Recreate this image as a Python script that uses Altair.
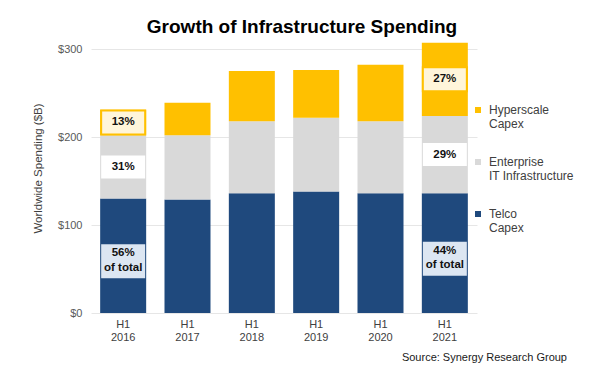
import altair as alt
import pandas as pd

# ---- data ----
years = ["2016", "2017", "2018", "2019", "2020", "2021"]
series = ["Hyperscale Capex", "Enterprise IT Infrastructure", "Telco Capex"]
telco = [130, 129, 136, 138, 136, 136]
enterprise = [72, 73, 82, 84, 82, 88]
hyperscale = [29, 37, 57, 54, 64, 83]
labeled_years = ["2016", "2021"]
y_ticks = [0, 100, 200, 300]
title_text = "Growth of Infrastructure Spending"
source_text = "Source: Synergy Research Group"
y_title = "Worldwide Spending ($B)"

colors = ["#FFC000", "#D9D9D9", "#1F497D"]
FONT = "Liberation Sans"

rows = []
for i, yr in enumerate(years):
    for name, vals, order in [("Telco Capex", telco, 0),
                              ("Enterprise IT Infrastructure", enterprise, 1),
                              ("Hyperscale Capex", hyperscale, 2)]:
        rows.append({"year": yr, "series": name, "value": vals[i], "order": order})
df = pd.DataFrame(rows)

base = alt.Chart(df).transform_stack(
    stack="value", groupby=["year"],
    sort=[alt.SortField("order", order="ascending")], as_=["lo", "hi"]
).transform_joinaggregate(
    total="sum(value)", groupby=["year"]
).transform_calculate(
    mid="(datum.lo + datum.hi) / 2",
    pct="round(100 * datum.value / datum.total) + '%'",
    pct2="[round(100 * datum.value / datum.total) + '%', 'of total']",
)

xenc = alt.X("year:N", sort=years,
             scale=alt.Scale(paddingInner=0.285, paddingOuter=0.1425),
             axis=alt.Axis(title=None, labelExpr="['H1', datum.label]", labelAngle=0,
                           domain=False, ticks=False, labelPadding=5, labelFontSize=11,
                           labelLineHeight=13, labelColor="#404040", labelFont=FONT))
yscale = alt.Scale(domain=[0, 300], nice=False)
yaxis = alt.Axis(title=y_title, values=y_ticks, labelExpr="'$' + datum.value",
                 domain=False, ticks=False, labelPadding=9, labelFontSize=11,
                 labelFont=FONT, labelColor="#595959", grid=True, gridColor="#E6E6E6",
                 titleFont=FONT, titleFontSize=11.5, titleFontWeight="normal",
                 titleColor="#404040", titleX=-53, titleY=119, titleAngle=-90,
                 titleAlign="center", titleBaseline="middle")

bars = base.mark_bar().encode(
    x=xenc,
    y=alt.Y("lo:Q", scale=yscale, axis=yaxis),
    y2="hi:Q",
    color=alt.Color("series:N", scale=alt.Scale(domain=series, range=colors),
                    legend=alt.Legend(
                        title=None, orient="none", legendX=381, legendY=55,
                        symbolType="square", symbolSize=36, symbolStrokeWidth=0,
                        labelFontSize=12, labelFont=FONT, labelColor="#404040",
                        labelOffset=5, rowPadding=26, padding=0,
                        labelBaseline="middle",
                        labelExpr="datum.label == 'Enterprise IT Infrastructure' ? ['Enterprise', 'IT Infrastructure'] : split(datum.label, ' ')")),
)

lab = base.transform_filter(alt.FieldOneOfPredicate(field="year", oneOf=labeled_years))


def box(name, fill, stroke, top, bottom):
    return lab.transform_filter(alt.datum.series == name).mark_bar(
        width=44, fill=fill, stroke=stroke if stroke else fill,
        strokeWidth=2 if stroke else 0, yOffset=top, y2Offset=bottom
    ).encode(x=xenc, y=alt.Y("mid:Q", scale=yscale, axis=yaxis), y2="mid:Q")


box_h = box("Hyperscale Capex", "#FFF5DA", "#FFC000", -12, 12)
box_e = box("Enterprise IT Infrastructure", "#FFFFFF", None, -11.5, 11.5)
box_t = box("Telco Capex", "#DCE6F2", None, -11.5, 22.5)

txt_one = lab.transform_filter(alt.datum.series != "Telco Capex").mark_text(
    font=FONT, fontSize=11.5, fontWeight="bold", color="#111111", baseline="middle"
).encode(x=xenc, y=alt.Y("mid:Q", scale=yscale, axis=yaxis), text="pct:N")

txt_two = lab.transform_filter(alt.datum.series == "Telco Capex").mark_text(
    font=FONT, fontSize=11.5, fontWeight="bold", color="#111111", baseline="middle",
    lineHeight=14.5, dy=-2.5
).encode(x=xenc, y=alt.Y("mid:Q", scale=yscale, axis=yaxis), text=alt.Text("pct2:N"))

title = alt.Chart(pd.DataFrame({"t": [title_text]})).mark_text(
    font=FONT, fontSize=19, fontWeight="bold", color="#000000", align="center",
    baseline="alphabetic"
).encode(x=alt.value(211), y=alt.value(-16), text="t:N")

source = alt.Chart(pd.DataFrame({"t": [source_text]})).mark_text(
    font=FONT, fontSize=11, color="#1a1a1a", align="right", baseline="alphabetic"
).encode(x=alt.value(476), y=alt.value(312), text="t:N")

chart = alt.layer(bars, box_h, box_e, box_t, txt_one, txt_two, title, source).properties(
    width=386, height=264,
    padding={"left": 83, "top": 41, "right": 115, "bottom": 52},
    autosize=alt.AutoSizeParams(type="none"),
    background="white",
).configure_view(stroke=None)

chart.save("out.html", embed_options={"renderer": "svg", "actions": False})
